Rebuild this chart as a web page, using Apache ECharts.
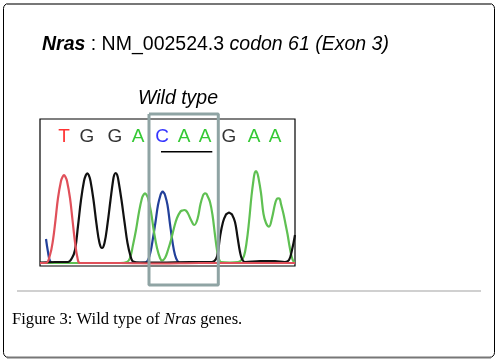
<!DOCTYPE html>
<html>
<head>
<meta charset="utf-8">
<script src="https://cdn.jsdelivr.net/npm/echarts@6/dist/echarts.min.js"></script>
<style>html,body{margin:0;padding:0;background:#fff;}#c{width:503px;height:360px;}</style>
</head>
<body>
<div id="c"></div>
<script>
// Base calls and their positions along the trace
const bases = ['T','G','G','A','C','A','A','G','A','A'];
const basePos = [64, 87, 115, 138, 162, 184, 205, 229, 254, 275];
const baseY = 129.7;
// Codon 61 underline (start, end, level)
const codonLine = [[161, 114.3], [212.3, 114.3]];
// Highlight box around codon
const codonBox = [[149, 152], [218.3, 152], [218.3, -19], [149, -19], [149, 152]];

// Chromatogram traces [position, signal]
const traceT = [[40,3],[46,3],[50,11],[53,26],[55.5,46],[58,68],[61,85],[62.5,89],[64,91],[65.5,89],[67,85],[70,68],[72.5,46],[75,24],[77.5,8],[80,3],[120,3],[160,2.5],[200,3],[240,3],[295,3]];
const traceG = [[40,3.5],[55,4],[68,4],[72,8],[75,16],[78,40],[81,66],[84,85],[85.8,90.8],[87.3,92.7],[88.8,90.8],[90.5,85],[93.5,66],[96.5,42],[99.5,23],[102,18],[104.5,23],[107.5,42],[110.5,66],[113,85],[114.2,91],[115.7,93],[117.2,91],[118.5,85],[121.5,66],[124.5,44],[127.5,23],[130.5,10],[133,4.5],[140,3.5],[160,3.5],[190,4],[212,4],[216,7],[218,14],[220,29],[223,44],[226,51.5],[227.5,52.6],[229,53.3],[230.5,52.6],[232,51.5],[235,44],[237.5,29],[240,14],[242,7],[245,4],[260,5],[275,5],[285,4],[289,6],[292,16],[295,31]];
const traceA = [[40,3],[80,3],[120,3],[127,4],[130,8],[133,21],[136,36],[139,54],[142,68],[143.5,71.2],[145,72.7],[146.5,71.2],[148,68],[151,54],[154,34],[157,18],[160,8],[162,5.5],[165,8],[168,16],[171,26],[174,38],[177,48],[180.5,54.5],[182.5,55.6],[184.3,56],[186,55.4],[188,52.5],[191,46],[194.3,41],[197.5,47],[200.5,62],[203,70.5],[204,72],[205,72.7],[206.3,72.2],[207.5,70],[210,64],[212.5,51],[215,31],[217,16],[219,7],[221,4],[230,3.5],[238,4],[241.5,6],[244,10],[246.5,23],[249,44],[251.5,70],[253.5,86],[254.7,93],[256,95],[257.3,93],[258.5,88],[261,73],[263.5,52],[266,43],[269,39.3],[272,48],[275,62],[276.8,67],[278.3,67.7],[279.8,67],[281,62],[283.5,52],[285.5,42],[287.5,32],[289.5,20],[291.5,10],[293.5,4.5],[295,4]];
const traceC = [[46,27],[48,14],[50,5],[53,3],[80,3],[120,3],[145,3.5],[148,6],[150.5,14],[153,28],[155.5,44],[158,61],[160.5,71],[161.6,73.3],[162.7,74.3],[163.8,73.3],[165,71],[167.5,61],[170,42],[172.5,24],[175,11],[177.5,5],[180,3],[220,3],[295,3]];

const baseColor = {T:'#ff0000', G:'#000000', A:'#00bb00', C:'#0000ff'};

const chart = echarts.init(document.getElementById('c'), null, {renderer:'canvas'});
const sans = 'Liberation Sans, Arial, sans-serif';
const serif = 'Liberation Serif, Times New Roman, serif';

function trace(data, color){
  return {type:'line', data:data, smooth:0.4, showSymbol:false, symbol:'none',
    lineStyle:{color:color, width:2.2}, animation:false, silent:true};
}

chart.setOption({
  animation:false,
  backgroundColor:'#fff',
  title:[
    {text:'{b|Nras} : NM_002524.3 {i|codon 61 (Exon 3)}', left:42, top:35, padding:0,
     textStyle:{fontFamily:sans, fontSize:19.5, fontWeight:'normal', color:'#000',
       rich:{b:{fontFamily:sans, fontSize:19.5, fontWeight:'bold', fontStyle:'italic', color:'#000'},
             i:{fontFamily:sans, fontSize:19.5, fontStyle:'italic', color:'#000'}}}},
    {text:'Wild type', left:138, top:89, padding:0,
     textStyle:{fontFamily:sans, fontSize:19.5, fontWeight:'normal', fontStyle:'italic', color:'#000'}},
    {text:'Figure 3: Wild type of {i|Nras} genes.', left:12, top:311, padding:0,
     textStyle:{fontFamily:serif, fontSize:16.6, fontWeight:'normal', color:'#000',
       rich:{i:{fontFamily:serif, fontSize:16.6, fontStyle:'italic', color:'#000'}}}}
  ],
  graphic:[
    {type:'rect', shape:{x:3.5, y:3.5, width:491, height:354, r:5}, style:{fill:'none', stroke:'#000', lineWidth:1}, z:100},
    {type:'line', shape:{x1:7, y1:4, x2:491, y2:4}, style:{stroke:'#777', lineWidth:2}, z:101},
    {type:'line', shape:{x1:7, y1:357.5, x2:491, y2:357.5}, style:{stroke:'#777', lineWidth:2}, z:101},
    {type:'line', shape:{x1:17, y1:291, x2:481, y2:291}, style:{stroke:'#d0d0d0', lineWidth:2}, z:101}
  ],
  grid:{left:40, right:208, top:119, bottom:94, show:true, borderColor:'#000', borderWidth:1.2, backgroundColor:'transparent'},
  xAxis:{type:'value', min:40, max:295, show:false},
  yAxis:{type:'value', min:0, max:147, show:false},
  series:[
    trace(traceC, '#22409a'),
    trace(traceA, '#5fc052'),
    trace(traceG, '#111111'),
    trace(traceT, '#e0505a'),
    {type:'scatter', symbolSize:0, silent:true, animation:false,
     data: bases.map((b,i)=>({value:[basePos[i], baseY], name:b, label:{color:baseColor[b]}})),
     label:{show:true, position:'inside', formatter:p=>p.name, fontFamily:sans, fontSize:19}},
    {type:'line', data:codonLine, showSymbol:false, symbol:'none', lineStyle:{color:'#000', width:1.5}, silent:true, animation:false},
    {type:'line', data:codonBox, showSymbol:false, symbol:'none', clip:false, z:10,
     lineStyle:{color:'#8fa4a4', width:3}, silent:true, animation:false}
  ]
});
</script>
</body>
</html>
